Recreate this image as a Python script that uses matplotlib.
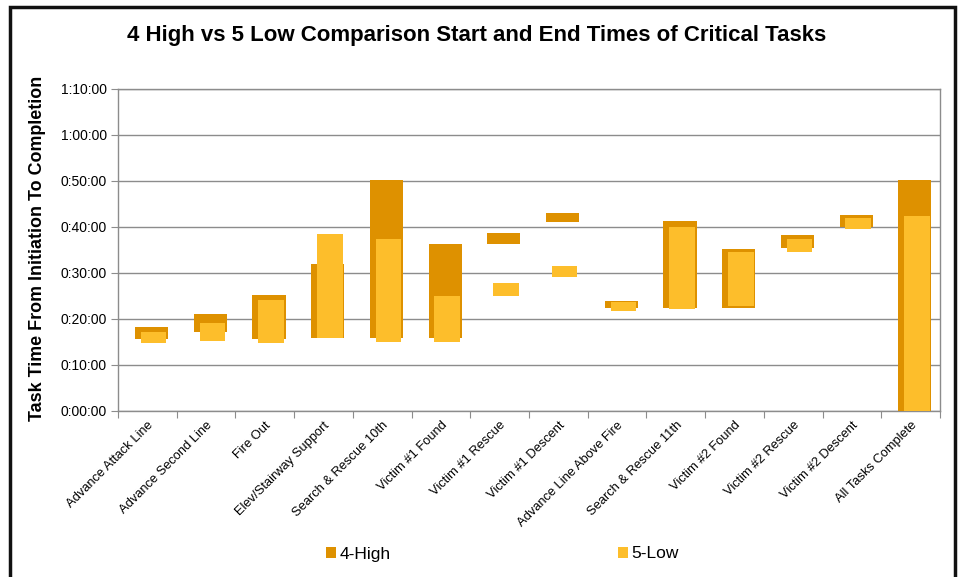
import matplotlib
matplotlib.use('Agg')
import matplotlib.pyplot as plt
from matplotlib.patches import Patch, Rectangle
from matplotlib.ticker import FuncFormatter
import numpy as np

plt.rcParams['font.family'] = ['Liberation Sans', 'DejaVu Sans']

tasks = ['Advance Attack Line', 'Advance Second Line', 'Fire Out',
         'Elev/Stairway Support', 'Search & Rescue 10th', 'Victim #1 Found',
         'Victim #1 Rescue', 'Victim #1 Descent', 'Advance Line Above Fire',
         'Search & Rescue 11th', 'Victim #2 Found', 'Victim #2 Rescue',
         'Victim #2 Descent', 'All Tasks Complete']

# times in minutes from initiation
high_start = [15.7, 17.2, 15.7, 15.9, 15.8, 15.8, 36.2, 41.0, 22.5, 22.5, 22.5, 35.4, 39.9, 0.0]
high_end = [18.2, 21.0, 25.2, 31.9, 50.2, 36.2, 38.7, 43.1, 23.9, 41.4, 35.3, 38.3, 42.6, 50.2]
low_start = [14.7, 15.3, 14.7, 15.9, 14.9, 14.9, 25.0, 29.2, 21.8, 22.1, 22.8, 34.6, 39.5, 0.0]
low_end = [17.2, 19.2, 24.1, 38.4, 37.3, 25.1, 27.8, 31.5, 23.7, 40.1, 34.5, 37.4, 41.9, 42.5]

high_color = '#DE9100'
low_color = '#FDBE2B'
grid_color = '#8C8C8C'


def fmt_time(v, pos):
	m = int(round(v))
	return '%d:%02d:00' % (m // 60, m % 60)


fig = plt.figure(figsize=(9.61, 5.77), dpi=100)
ax = fig.add_axes([118 / 961, 1 - 411 / 577, (940 - 118) / 961, (411 - 89) / 577])

x = np.arange(len(tasks)) + 0.5
hs = np.array(high_start)
he = np.array(high_end)
ls = np.array(low_start)
le = np.array(low_end)

ax.bar(x - 0.21, he - hs, bottom=hs, width=0.565, align='edge', color=high_color, zorder=3)
ax.bar(x - 0.11, le - ls, bottom=ls, width=0.435, align='edge', color=low_color, zorder=4)

ax.set_xlim(0, len(tasks))
ax.set_ylim(0, 70)
ax.set_yticks(np.arange(0, 71, 10))
ax.yaxis.set_major_formatter(FuncFormatter(fmt_time))
ax.grid(axis='y', color=grid_color, linewidth=1, zorder=1)
ax.set_axisbelow(True)

ax.set_xticks(np.arange(0, len(tasks) + 1))
ax.set_xticklabels([])
ax.set_xticks(x, minor=True)
ax.set_xticklabels(tasks, minor=True, rotation=45, ha='right', va='top',
                   rotation_mode='anchor', fontsize=9.3)
ax.tick_params(axis='x', which='minor', length=0, pad=6)
ax.tick_params(axis='x', which='major', length=5, color=grid_color)
ax.tick_params(axis='y', length=5, color=grid_color, labelsize=10, pad=3)

for s in ax.spines.values():
	s.set_color(grid_color)
	s.set_linewidth(1)

fig.text(0.496, 1 - 35 / 577, '4 High vs 5 Low Comparison Start and End Times of Critical Tasks',
         ha='center', va='center', fontsize=16, fontweight='bold')
fig.text(38 / 961, 1 - 248 / 577, 'Task Time From Initiation To Completion',
         ha='center', va='center', rotation=90, fontsize=12.9, fontweight='bold')

handles = [Patch(facecolor=high_color, label='4-High'),
           Patch(facecolor=low_color, label='5-Low')]
fig.legend(handles=handles, loc='center', bbox_to_anchor=(0.523, 1 - 554 / 577), ncol=2,
           frameon=False, fontsize=12.5, handlelength=0.57, handleheight=0.57,
           handletextpad=0.2, columnspacing=13.1)

# outer frame of the original image
fig.patches.append(Rectangle((10 / 961, -0.05), (955 - 10) / 961, 0.05 + 1 - 7 / 577,
                             transform=fig.transFigure, fill=False, edgecolor='#111111',
                             linewidth=2.5))

fig.savefig('out.png', dpi=100)
